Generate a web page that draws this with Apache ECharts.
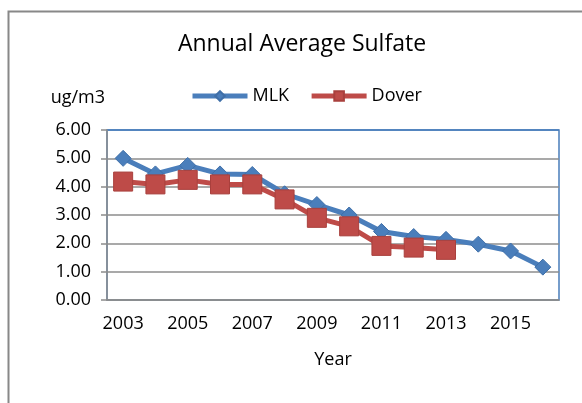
<!DOCTYPE html>
<html>
<head>
<meta charset="utf-8">
<script src="https://cdn.jsdelivr.net/npm/echarts@6/dist/echarts.min.js"></script>
<style>
  html, body { margin: 0; padding: 0; background: #fff; }
  #chart { width: 582px; height: 403px; }
</style>
</head>
<body>
<div id="chart"></div>
<script>
// values
const years = ["2003", "2004", "2005", "2006", "2007", "2008", "2009",
  "2010", "2011", "2012", "2013", "2014", "2015", "2016"];
const mlk = [5.0, 4.45, 4.75, 4.45, 4.43, 3.75, 3.37, 3.0, 2.42, 2.24, 2.14, 1.97, 1.73, 1.16];
const dover = [4.18, 4.08, 4.24, 4.08, 4.08, 3.55, 2.9, 2.6, 1.91, 1.85, 1.77, null, null, null];
const yTicks = [0, 1, 2, 3, 4, 5, 6];

const font = "'Open Sans', sans-serif";
const grey = "#8c8c8c";
const blue = "#4a7ebb";
const red = "#be4b48";

var chartDom = document.getElementById("chart");
let mychart = echarts.init(chartDom);

let option = {
  animation: false,
  textStyle: { fontFamily: font, color: "#000" },
  title: {
    text: "Annual Average Sulfate",
    left: 297,
    top: 28,
    textAlign: "center",
    textStyle: { fontFamily: font, fontSize: 23, fontWeight: "normal", color: "#000" },
  },
  legend: {
    data: ["MLK", "Dover"],
    left: 190,
    top: 87,
    padding: 0,
    itemWidth: 55,
    itemHeight: 12,
    itemGap: 20,
    lineStyle: { width: 5 },
    textStyle: { fontFamily: font, fontSize: 18, color: "#000" },
  },
  graphic: [{
    type: "rect",
    left: 6,
    top: 9,
    shape: { width: 700, height: 500 },
    style: { fill: "none", stroke: "#888", lineWidth: 2 },
  }],
  grid: {
    left: 107,
    top: 130,
    width: 452,
    height: 170,
    show: true,
    borderColor: blue,
    borderWidth: 1.5,
  },
  xAxis: {
    type: "category",
    data: years,
    boundaryGap: true,
    name: "Year",
    nameLocation: "middle",
    nameGap: 51,
    nameTextStyle: { fontFamily: font, fontSize: 18, color: "#000" },
    axisLine: { lineStyle: { color: grey, width: 1.5 } },
    axisTick: { interval: 0, length: 6, alignWithLabel: false, lineStyle: { color: grey, width: 1.5 } },
    axisLabel: { interval: 1, margin: 15, fontFamily: font, fontSize: 18, color: "#000" },
  },
  yAxis: {
    type: "value",
    min: yTicks[0],
    max: yTicks[yTicks.length - 1],
    interval: 1,
    name: "ug/m3",
    nameLocation: "end",
    nameGap: 32,
    nameTextStyle: { fontFamily: font, fontSize: 18, color: "#000", align: "right", verticalAlign: "middle", padding: [0, 2, 0, 0] },
    axisLine: { show: true, lineStyle: { color: grey, width: 1.5 } },
    axisTick: { show: true, length: 6, lineStyle: { color: grey, width: 1.5 } },
    axisLabel: {
      margin: 16,
      fontFamily: font,
      fontSize: 18,
      color: "#000",
      formatter: (v) => v.toFixed(2),
    },
    splitLine: {
      lineStyle: {
        color: yTicks.map((t, i) => (i === yTicks.length - 1 ? blue : grey)),
        width: 1.5,
      },
    },
  },
  series: [
    {
      name: "MLK",
      type: "line",
      data: mlk,
      symbol: "diamond",
      symbolSize: 16,
      lineStyle: { color: blue, width: 5 },
      itemStyle: { color: blue, borderColor: "#3f6fa8", borderWidth: 1 },
      z: 2,
    },
    {
      name: "Dover",
      type: "line",
      data: dover,
      symbol: "rect",
      symbolSize: 19,
      lineStyle: { color: red, width: 5 },
      itemStyle: { color: red, borderColor: "#a9403d", borderWidth: 1 },
      z: 3,
    },
  ],
};

mychart.setOption(option);
</script>
</body>
</html>
